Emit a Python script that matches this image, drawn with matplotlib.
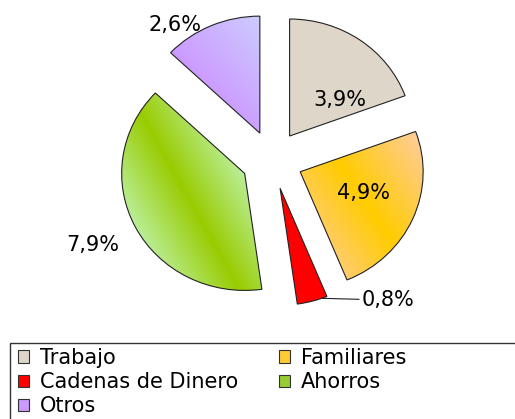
import numpy as np
import matplotlib.pyplot as plt
from matplotlib.patches import Patch, Rectangle

# data
categories = ['Trabajo', 'Familiares', 'Cadenas de Dinero', 'Ahorros', 'Otros']
values = [3.9, 4.9, 0.8, 7.9, 2.6]
value_labels = ['3,9%', '4,9%', '0,8%', '7,9%', '2,6%']

# style
base_colors = ['#ddd6c9', '#ffcc33', '#ff0000', '#99cc33', '#cc99ff']
# (kind, angle, centre, color_a, color_b) ; axial = a at centre, b at both sides
gradients = [None,
             ('axial', 33, 0.42, '#ffcc00', '#ffcc99'),
             None,
             ('axial', 28, 0.5, '#99cc00', '#bbee99'),
             ('linear', 40, 0.0, '#cc99ff', '#ccccff')]
label_ang = [42.9, -20.9, -58.6, 206.5, 124.4]
label_r = [0.754, 0.792, 1.403, 1.626, 1.398]

W, H = 515, 419
cx, cy = 272, 160      # pie centre in pixels
Rx, Ry = 123, 117      # pie is a bit wider than tall

fig = plt.figure(figsize=(W / 100, H / 100), dpi=100)
ax = fig.add_axes([0, 0, 1, 1])

wedges, _ = ax.pie(values, startangle=90, counterclock=False,
                   explode=[0.25] * len(values), radius=1,
                   colors=base_colors,
                   wedgeprops=dict(edgecolor='#222222', linewidth=0.8))
ax.axis('off')


def hex2rgb(h):
    return np.array([int(h[i:i + 2], 16) / 255 for i in (1, 3, 5)])


for w, g in zip(wedges, gradients):
    if g is None:
        continue
    kind, ang, c0, ca, cb = g
    verts = w.get_path().vertices
    verts = w.get_patch_transform().transform(verts)
    x0, y0 = verts.min(axis=0)
    x1, y1 = verts.max(axis=0)
    xs = np.linspace(x0, x1, 200)
    ys = np.linspace(y0, y1, 200)
    xx, yy = np.meshgrid(xs, ys)
    d = np.array([np.cos(np.radians(ang)), np.sin(np.radians(ang))])
    p = xx * d[0] + yy * d[1]
    pv = verts @ d
    t = (p - pv.min()) / (pv.max() - pv.min())
    if kind == 'axial':
        t = np.clip(np.abs(t - c0) / max(c0, 1 - c0), 0, 1)
    a, b = hex2rgb(ca), hex2rgb(cb)
    img = a[None, None, :] * (1 - t[..., None]) + b[None, None, :] * t[..., None]
    im = ax.imshow(img, extent=(x0, x1, y0, y1), origin='lower', aspect='auto',
                   interpolation='bilinear', zorder=w.get_zorder() - 0.1)
    im.set_clip_path(w)
    w.set_facecolor('none')

ax.set_aspect('auto')
ax.set_xlim(-cx / Rx, (W - cx) / Rx)
ax.set_ylim(-(H - cy) / Ry, cy / Ry)

for i, (w, lab) in enumerate(zip(wedges, value_labels)):
    a = np.radians(label_ang[i])
    x, y = label_r[i] * np.cos(a), label_r[i] * np.sin(a)
    if i == 2:
        mid = np.radians((w.theta1 + w.theta2) / 2)
        cxw, cyw = w.center
        px = cxw + np.cos(mid + 0.08)
        py = cyw + np.sin(mid + 0.08)
        ax.annotate(lab, xy=(px, py), xytext=(x, y), fontsize=15,
                    ha='left', va='center',
                    arrowprops=dict(arrowstyle='-', color='#222222', lw=0.8,
                                    shrinkA=0, shrinkB=0))
    else:
        ax.text(x, y, lab, fontsize=15, ha='center', va='center')

# legend box (runs off the right and bottom edges)
fig.patches.append(Rectangle((10 / W, -0.2), 1.2, 0.2 + 1 - 343 / H,
                             transform=fig.transFigure, fill=False,
                             edgecolor='#333333', linewidth=1))

order = [0, 2, 4, 1, 3]
handles = [Patch(facecolor=base_colors[i], edgecolor='#333333', linewidth=0.8)
           for i in order]
fig.legend(handles, [categories[i] for i in order], ncol=2,
           loc='upper left', bbox_to_anchor=(18 / W, 1 - 348 / H),
           frameon=False, fontsize=15, handlelength=0.55, handleheight=0.55,
           handletextpad=0.5, columnspacing=1.95, labelspacing=0.2,
           borderpad=0, borderaxespad=0)

fig.savefig('out.png', dpi=100)
